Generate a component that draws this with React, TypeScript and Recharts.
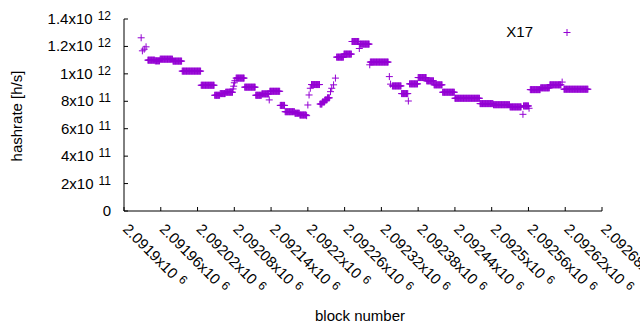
import React from 'react';
import { ScatterChart, Scatter, XAxis, YAxis, Legend, Label } from 'recharts';

const PURPLE = '#9400d3';
const FONT = '"Liberation Sans", Arial, sans-serif';

// plateaus: consecutive blocks sharing one hashrate (units of 1e12 h/s)
const runStart = [
  2091939, 2091951, 2091959, 2091980, 2091995, 2092026, 2092048, 2092057, 2092066,
  2092083, 2092097, 2092115, 2092125, 2092138, 2092155, 2092163, 2092179, 2092187,
  2092206, 2092220, 2092224, 2092228, 2092232, 2092247, 2092259, 2092272, 2092285,
  2092302, 2092338, 2092353, 2092366, 2092380, 2092394, 2092406, 2092420, 2092440,
  2092481, 2092503, 2092530, 2092552, 2092563, 2092580, 2092595, 2092618,
];
const runEnd = [
  2091950, 2091958, 2091979, 2091994, 2092025, 2092047, 2092056, 2092065, 2092077,
  2092096, 2092114, 2092124, 2092136, 2092154, 2092162, 2092178, 2092186, 2092197,
  2092219, 2092223, 2092227, 2092231, 2092235, 2092258, 2092271, 2092283, 2092300,
  2092331, 2092352, 2092363, 2092379, 2092393, 2092405, 2092419, 2092439, 2092480,
  2092502, 2092529, 2092548, 2092560, 2092579, 2092594, 2092613, 2092657,
];
const runRate = [
  1.100, 1.095, 1.107, 1.093, 1.020, 0.917, 0.844, 0.856, 0.866,
  0.969, 0.903, 0.844, 0.854, 0.873, 0.770, 0.724, 0.713, 0.700,
  0.922, 0.780, 0.795, 0.810, 0.825, 1.122, 1.144, 1.236, 1.217,
  1.086, 0.912, 0.856, 0.927, 0.973, 0.949, 0.920, 0.866, 0.822,
  0.783, 0.775, 0.759, 0.766, 0.885, 0.898, 0.920, 0.888,
];

// isolated points between the plateaus
const singleBlock = [
  2091928, 2091930, 2091933, 2091936, 2092078, 2092079, 2092080, 2092081, 2092137,
  2092198, 2092200, 2092202, 2092204, 2092237, 2092239, 2092242, 2092245, 2092284,
  2092301, 2092333, 2092335, 2092364, 2092551, 2092561, 2092615,
];
const singleRate = [
  1.263, 1.168, 1.180, 1.197, 0.890, 0.910, 0.935, 0.950, 0.810,
  0.695, 0.773, 0.846, 0.895, 0.870, 0.895, 0.920, 0.969, 1.185,
  1.066, 0.980, 0.925, 0.802, 0.705, 0.749, 0.940,
];

const xTicks = [
  2091900, 2091960, 2092020, 2092080, 2092140, 2092200, 2092260,
  2092320, 2092380, 2092440, 2092500, 2092560, 2092620, 2092680,
];
const yTicks = [0, 2e11, 4e11, 6e11, 8e11, 1e12, 1.2e12, 1.4e12];

const points: { block: number; rate: number }[] = [];
runStart.forEach((s, i) => {
  for (let b = s; b <= runEnd[i]; b++) points.push({ block: b, rate: runRate[i] * 1e12 });
});
singleBlock.forEach((b, i) => points.push({ block: b, rate: singleRate[i] * 1e12 }));
points.sort((a, b) => a.block - b.block);

const Plus = ({ cx, cy }: any) => (
  <path
    d={`M${cx - 3.5},${cy}H${cx + 3.5}M${cx},${cy - 3.5}V${cy + 3.5}`}
    stroke={PURPLE}
    strokeWidth={1}
    fill="none"
  />
);

const XTick = ({ x, y, payload }: any) => {
  const m = (payload.value / 1e6).toFixed(5).replace(/0+$/, '');
  return (
    <g transform={`translate(${x - 2},${y + 19}) rotate(45)`}>
      <text x={0} y={0} fontSize={15} fontFamily={FONT} fill="#000">
        {m}x10
        <tspan dx={5} dy={-4} fontSize={12}>6</tspan>
      </text>
    </g>
  );
};

const YTick = ({ x, y, payload }: any) => {
  const v = payload.value;
  if (v === 0) {
    return (
      <text x={x} y={y + 5} textAnchor="end" fontSize={15} fontFamily={FONT} fill="#000">0</text>
    );
  }
  const e = Math.floor(Math.log10(v) + 1e-9);
  const m = parseFloat((v / Math.pow(10, e)).toFixed(2));
  return (
    <text x={x} y={y + 5} textAnchor="end" fontSize={15} fontFamily={FONT} fill="#000">
      {m}x10
      <tspan dx={5} dy={-4} fontSize={12}>{e}</tspan>
    </text>
  );
};

const LegendBox = () => (
  <div style={{ display: 'flex', height: 20, lineHeight: '20px', fontFamily: FONT, fontSize: 15, color: '#000' }}>
    <span style={{ width: 53, textAlign: 'right' }}>X17</span>
    <svg width={68} height={20}>
      <path d="M30.5,10.5H37.5M34,7V14" stroke={PURPLE} strokeWidth={1} fill="none" />
    </svg>
  </div>
);

export default function App() {
  return (
    <div style={{ position: 'fixed', left: 0, top: 0, background: '#fff' }}>
      <ScatterChart width={640} height={330} margin={{ top: 19, right: 38, bottom: 9, left: 0 }}>
        <XAxis
          dataKey="block"
          type="number"
          domain={[2091900, 2092680]}
          ticks={xTicks}
          interval={0}
          height={110}
          tickSize={-4}
          tickMargin={4}
          tick={<XTick />}
          axisLine={{ stroke: '#000' }}
          tickLine={{ stroke: '#000' }}
        >
          <Label
            content={({ viewBox }: any) => (
              <text
                x={viewBox.x + viewBox.width / 2 - 3}
                y={321}
                textAnchor="middle"
                fontSize={15}
                fontFamily={FONT}
                fill="#000"
              >
                block number
              </text>
            )}
          />
        </XAxis>
        <XAxis
          xAxisId="top"
          orientation="top"
          type="number"
          domain={[2091900, 2092680]}
          ticks={xTicks}
          interval={0}
          height={0}
          tickSize={-4}
          tick={false}
          axisLine={{ stroke: '#000' }}
          tickLine={{ stroke: '#000' }}
        />
        <YAxis
          dataKey="rate"
          type="number"
          domain={[0, 1.4e12]}
          ticks={yTicks}
          interval={0}
          width={124}
          tickSize={-4}
          tickMargin={17}
          tick={<YTick />}
          axisLine={{ stroke: '#000' }}
          tickLine={{ stroke: '#000' }}
        >
          <Label
            content={({ viewBox }: any) => (
              <text
                transform={`translate(22,${viewBox.y + viewBox.height / 2 + 1}) rotate(-90)`}
                textAnchor="middle"
                fontSize={15}
                fontFamily={FONT}
                fill="#000"
              >
                hashrate [h/s]
              </text>
            )}
          />
        </YAxis>
        <YAxis
          yAxisId="right"
          orientation="right"
          type="number"
          domain={[0, 1.4e12]}
          ticks={yTicks}
          interval={0}
          width={0}
          tickSize={-4}
          tick={false}
          axisLine={{ stroke: '#000' }}
          tickLine={{ stroke: '#000' }}
        />
        <Legend
          layout="horizontal"
          verticalAlign="middle"
          align="center"
          wrapperStyle={{ left: 480, top: 22, width: 130, height: 20 }}
          content={<LegendBox />}
        />
        <Scatter name="X17" data={points} shape={<Plus />} isAnimationActive={false} />
      </ScatterChart>
    </div>
  );
}
